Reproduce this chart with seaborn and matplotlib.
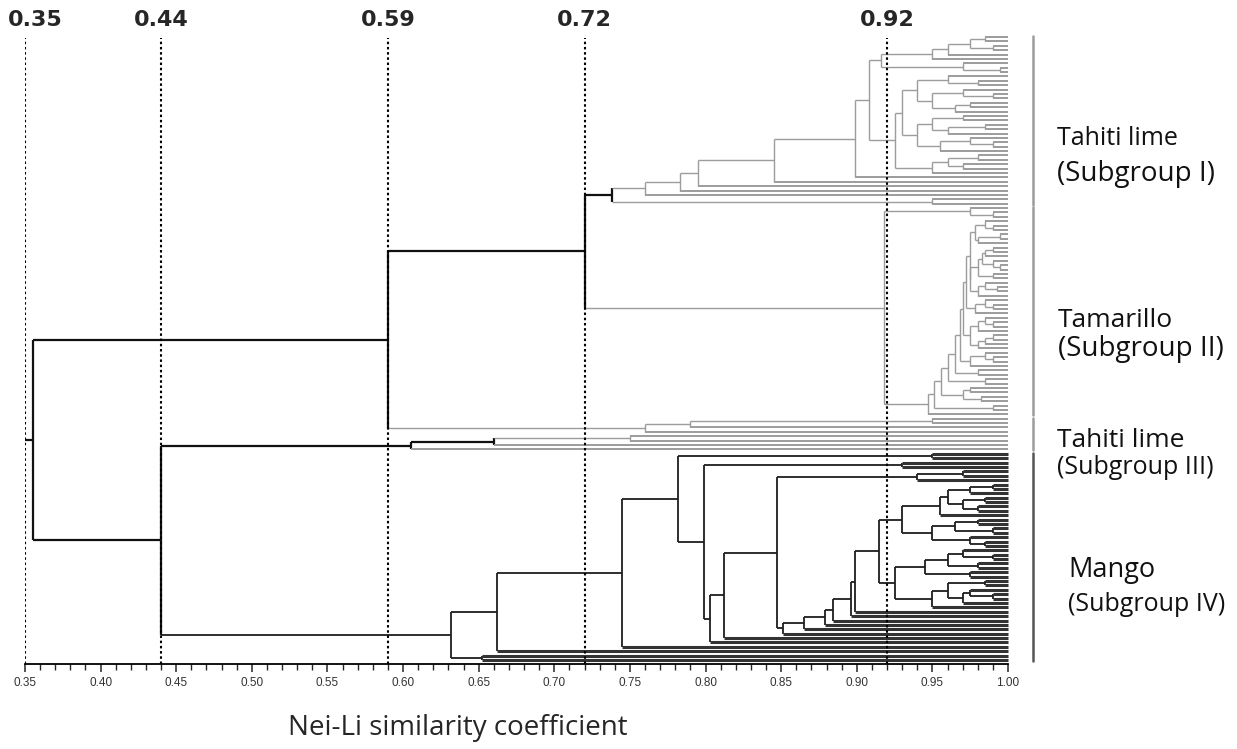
import numpy as np
import matplotlib
matplotlib.use("Agg")
import matplotlib.pyplot as plt
from matplotlib.collections import LineCollection
from matplotlib.ticker import MultipleLocator, FormatStrFormatter
import seaborn as sns

# --------------------------------------------------
# Data: similarity between neighbouring leaves (top -> bottom)
# --------------------------------------------------

tahiti_1 = [0.985, 0.975, 0.99, 0.96, 0.95, 0.916, 0.97, 0.995, 0.908,
            0.96, 0.98, 0.94, 0.97, 0.99, 0.95, 0.975, 0.965, 0.93,
            0.97, 0.95, 0.985, 0.96, 0.94, 0.975, 0.99, 0.955, 0.925,
            0.98, 0.96, 0.97, 0.95,
            0.899, 0.845, 0.795, 0.783, 0.76, 0.738, 0.95]

tamarillo_2 = [0.975, 0.99, 0.918,
               0.985, 0.99, 0.978, 0.995, 0.98, 0.975, 0.99, 0.985, 0.983, 0.99,
               0.995, 0.98, 0.99, 0.975, 0.985, 0.993, 0.98, 0.972, 0.985, 0.99,
               0.978, 0.97, 0.985, 0.99, 0.98, 0.975, 0.99, 0.985, 0.98, 0.968,
               0.985, 0.99, 0.975, 0.965, 0.98, 0.96, 0.985, 0.956, 0.975, 0.97,
               0.982, 0.951, 0.99, 0.947]

tahiti_3a = [0.95, 0.79, 0.76]
tahiti_3b = [0.75, 0.66, 0.605]

mango_4 = [0.95, 0.782, 0.93, 0.799, 0.97, 0.94, 0.847,
           0.99, 0.975, 0.96, 0.985, 0.97, 0.98, 0.955, 0.93,
           0.98, 0.965, 0.99, 0.95, 0.975, 0.985, 0.915,
           0.97, 0.99, 0.96, 0.98, 0.945, 0.975, 0.925,
           0.985, 0.96, 0.975, 0.99, 0.97, 0.95,
           0.899, 0.896, 0.884, 0.879, 0.865, 0.851,
           0.812, 0.803, 0.745, 0.662, 0.632, 0.652]

# similarity where neighbouring blocks meet
join_1_2 = 0.72
join_2_3a = 0.59
join_3a_3b = 0.355
join_3b_4 = 0.44

cut_levels = [0.35, 0.44, 0.59, 0.72, 0.92]
cut_labels = ["0.35", "0.44", "0.59", "0.72", "0.92"]

group_names = ["Tahiti lime", "Tamarillo", "Tahiti lime", "Mango"]
group_subs = ["(Subgroup I)", "(Subgroup II)", "(Subgroup III)", "(Subgroup IV)"]

# --------------------------------------------------
# Build the tree
# --------------------------------------------------

blocks = [tahiti_1, tamarillo_2, tahiti_3a, tahiti_3b, mango_4]
joins = [join_1_2, join_2_3a, join_3a_3b, join_3b_4]
block_grp = ["I", "II", "III", "III", "IV"]

sims = []
leaf_grp = []
for i, b in enumerate(blocks):
    sims += b
    leaf_grp += [block_grp[i]] * (len(b) + 1)
    if i < len(joins):
        sims.append(joins[i])
sims = np.array(sims)
n_leaves = len(leaf_grp)

DARK = "#111111"
GREY = "#9c9c9c"
MANGO = "#1e1e1e"


def style(node):
    if node["grp"] == "mix":
        return DARK, 1.6
    if node["grp"] == "IV":
        return ("#333333", 2.2) if node["leaf"] else (MANGO, 1.3)
    if not node["leaf"] and node["x"] < 0.745:
        return DARK, 1.6
    return (GREY, 1.4) if node["leaf"] else (GREY, 1.0)


segs, cols, lws = [], [], []


def add(p0, p1, st):
    segs.append([p0, p1])
    cols.append(st[0])
    lws.append(st[1])


def build(lo, hi):
    if lo == hi:
        return dict(x=1.0, y=float(lo), leaf=True, grp=leaf_grp[lo])
    k = lo + int(np.argmin(sims[lo:hi]))
    a = build(lo, k)
    b = build(k + 1, hi)
    g = a["grp"] if a["grp"] == b["grp"] else "mix"
    node = dict(x=float(sims[k]), y=(a["y"] + b["y"]) / 2, leaf=False, grp=g)
    add((node["x"], a["y"]), (node["x"], b["y"]), style(node))
    add((node["x"], a["y"]), (a["x"], a["y"]), style(a))
    add((node["x"], b["y"]), (b["x"], b["y"]), style(b))
    return node


root = build(0, n_leaves - 1)
add((0.35, root["y"]), (root["x"], root["y"]), style(root))

# --------------------------------------------------
# Figure
# --------------------------------------------------

sns.set_style("white")
plt.rcParams["font.family"] = ["DejaVu Sans"]

W, H = 1237, 749
fig = plt.figure(figsize=(W / 100, H / 100), dpi=100)
ax = fig.add_axes([25 / W, 1 - 664 / H, (1008 - 25) / W, (664 - 38) / H])

ax.add_collection(LineCollection(segs, colors=cols, linewidths=lws,
                                 clip_on=False, zorder=2))

ppu = (660 - 37) / (n_leaves - 1)
ax.set_xlim(0.35, 1.00)
ax.set_ylim((664 - 37) / ppu, (38 - 37) / ppu)

# dotted cut lines and their labels
for lv, lab in zip(cut_levels, cut_labels):
    ax.axvline(lv, color="black", lw=1.5, ls=(0, (1.2, 1.3)), zorder=3)
    off = 0.007 if lv == cut_levels[0] else 0.0
    ax.text(lv + off, 1 + (38 - 20) / 626, lab, transform=ax.get_xaxis_transform(),
            ha="center", va="center", fontsize=16, fontweight="bold")

# axis styling
sns.despine(ax=ax, left=True, top=True, right=True)
ax.spines["bottom"].set_linewidth(1.3)
ax.spines["bottom"].set_color("black")
ax.set_yticks([])
ax.xaxis.set_major_locator(MultipleLocator(0.05))
ax.xaxis.set_minor_locator(MultipleLocator(0.01))
ax.xaxis.set_major_formatter(FormatStrFormatter("%.2f"))
ax.tick_params(axis="x", which="major", direction="out", length=6, width=1.1,
               labelsize=8.5, labelcolor="#333333", pad=3, bottom=True)
ax.tick_params(axis="x", which="minor", direction="out", length=4, width=1.0, bottom=True)
for t in ax.get_xticklabels():
    t.set_family("Liberation Sans")

fig.text(458 / W, 1 - 728 / H, "Nei-Li similarity coefficient", ha="center",
         va="center", fontsize=20, family="Open Sans")

# group brackets on the right
bar_x = 0.35 + (1033 - 25) / 1512
grp_order = ["I", "II", "III", "IV"]
bar_cols = [GREY, GREY, GREY, "#555555"]
for g, c in zip(grp_order, bar_cols):
    idx = [i for i, lg in enumerate(leaf_grp) if lg == g]
    ax.plot([bar_x, bar_x], [idx[0] - 0.2, idx[-1] + 0.2], color=c, lw=1.8,
            clip_on=False)

# x, name baseline, sub baseline, name size, sub size
label_pos = [(1057, 145, 181, 18, 20), (1058, 327, 356, 19, 20),
             (1057, 447, 474, 19, 18), (1068, 577, 611, 19.5, 18)]
for (x, y1, y2, s1, s2), nm, sb in zip(label_pos, group_names, group_subs):
    fig.text(x / W, 1 - y1 / H, nm, ha="left", va="baseline", fontsize=s1,
             family="Open Sans", color="#111111")
    fig.text(x / W, 1 - y2 / H, sb, ha="left", va="baseline", fontsize=s2,
             family="Open Sans", color="#111111")

fig.savefig("out.png", dpi=100)
